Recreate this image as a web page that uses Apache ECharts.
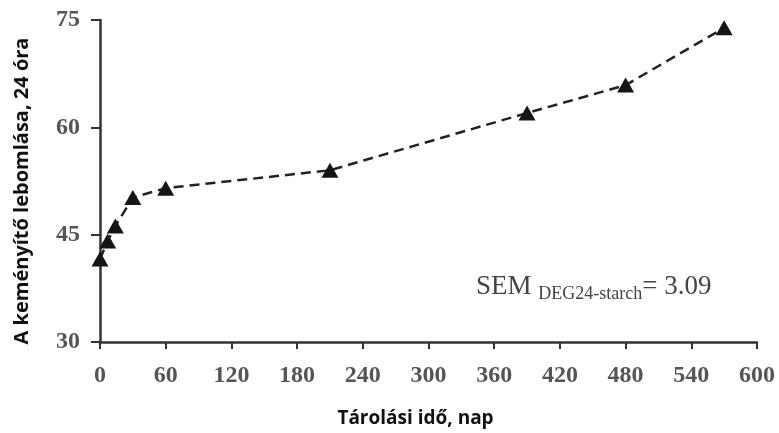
<!DOCTYPE html>
<html>
<head>
<meta charset="utf-8">
<script src="https://cdn.jsdelivr.net/npm/echarts@6/dist/echarts.min.js"></script>
<style>html,body{margin:0;padding:0;background:#fff;}#c{width:779px;height:433px;}</style>
</head>
<body>
<div id="c"></div>
<script>
var days = [0, 7, 14, 30, 60, 210, 390, 480, 570];
var degradation = [41.6, 44.1, 46.2, 50.2, 51.5, 54.0, 62.0, 65.9, 73.9];
var xTicks = [0, 60, 120, 180, 240, 300, 360, 420, 480, 540, 600];
var yTicks = [30, 45, 60, 75];
var xTitle = 'Tárolási idő, nap';
var yTitle = 'A keményítő lebomlása, 24 óra';
var semLabel = ['SEM ', 'DEG24-starch', '= 3.09'];

var chart = echarts.init(document.getElementById('c'));
var serif = 'Liberation Serif';
var sans = 'Open Sans';
chart.setOption({
  animation: false,
  backgroundColor: '#fff',
  grid: {left: 100, right: 22, top: 20, bottom: 88, containLabel: false},
  xAxis: {
    type: 'value', min: xTicks[0], max: xTicks[xTicks.length - 1], interval: 60,
    name: xTitle, nameLocation: 'middle', nameGap: 67,
    nameTextStyle: {fontFamily: sans, fontWeight: 'bold', fontSize: 19, color: '#111', padding: [0, 26, 0, 0]},
    axisLine: {lineStyle: {color: '#333', width: 2.5}},
    axisTick: {show: true, length: 7, lineStyle: {color: '#333', width: 2}},
    axisLabel: {fontFamily: serif, fontWeight: 'bold', fontSize: 24, color: '#555', margin: 22},
    splitLine: {show: false}
  },
  yAxis: {
    type: 'value', min: yTicks[0], max: yTicks[yTicks.length - 1], interval: 15,
    name: yTitle, nameLocation: 'middle', nameGap: 68, nameRotate: 90,
    nameTextStyle: {fontFamily: sans, fontWeight: 'bold', fontSize: 20, color: '#111', padding: [0, 20, 0, 0]},
    axisLine: {show: true, lineStyle: {color: '#333', width: 2.5}},
    axisTick: {show: true, length: 9, lineStyle: {color: '#333', width: 2}},
    axisLabel: {fontFamily: serif, fontWeight: 'bold', fontSize: 24, color: '#555', margin: 20},
    splitLine: {show: false}
  },
  series: [{
    type: 'line',
    data: days.map(function (d, i) { return [d, degradation[i]]; }),
    symbol: 'triangle', symbolSize: [17, 15],
    itemStyle: {color: '#151515'},
    lineStyle: {color: '#222', width: 2.5, type: [10, 6]},
    z: 3
  }],
  graphic: [{
    type: 'text', left: 476, top: 273,
    style: {
      text: '{a|' + semLabel[0] + '}{b|' + semLabel[1] + '}{a|' + semLabel[2] + '}',
      rich: {
        a: {fontFamily: serif, fontSize: 27, fill: '#444', verticalAlign: 'bottom'},
        b: {fontFamily: serif, fontSize: 18, fill: '#444', verticalAlign: 'bottom', padding: [0, 0, -3, 0]}
      }
    }
  }]
});
</script>
</body>
</html>
